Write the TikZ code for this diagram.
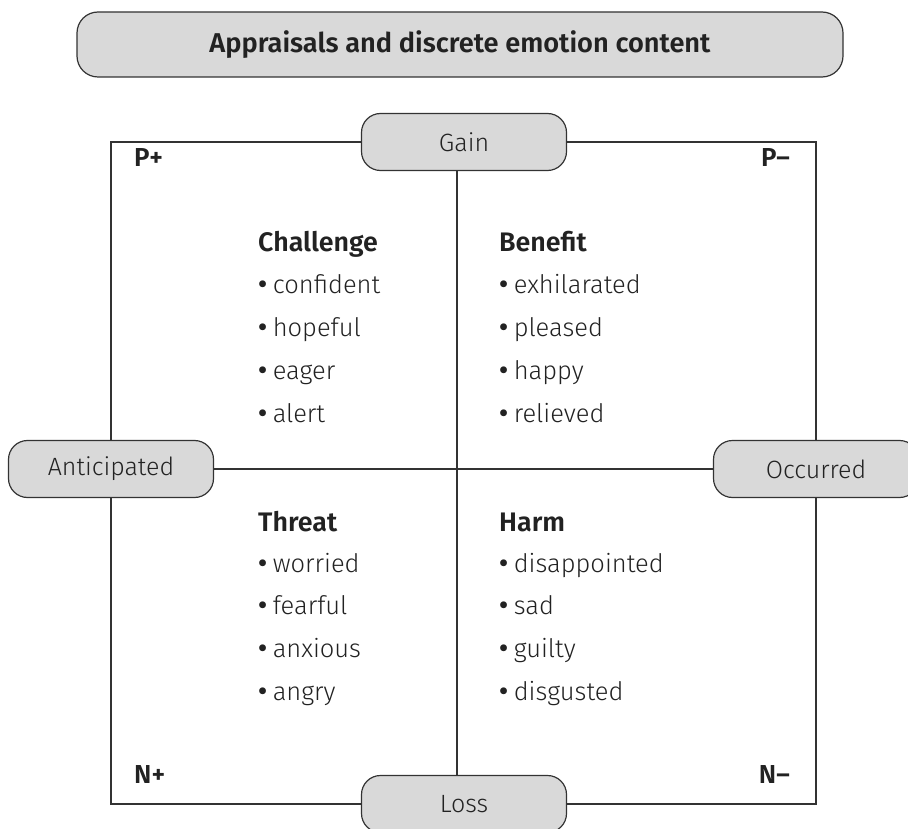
\documentclass[tikz,border=0pt]{standalone}
\usepackage{fontspec}
\setmainfont{Fira Sans Light}[BoldFont={Fira Sans}]
\newfontfamily\headfont{Fira Sans SemiBold}
\newfontfamily\bulfont{Fira Sans Medium}
\newcommand{\bul}{{\bulfont\fontsize{27}{29}\selectfont •}\hspace{5.5pt}}
\definecolor{boxfill}{HTML}{D9D9D9}
\definecolor{linec}{HTML}{333333}
\definecolor{textc}{HTML}{222222}
\tikzset{
  pill/.style={draw=linec, fill=boxfill, rounded corners=19pt, minimum width=205pt,
    minimum height=57pt, inner sep=0pt, line width=1.2pt, text=textc,
    font=\fontsize{25}{29}\selectfont},
  titlebox/.style={pill, minimum width=766pt, minimum height=65pt, rounded corners=21pt,
    font=\headfont\fontsize{27.2}{30}\selectfont},
  frame/.style={draw=linec, line width=1.2pt},
  head/.style={anchor=base west, inner sep=0pt, text=textc, font=\headfont\fontsize{26.8}{30}\selectfont},
  item/.style={anchor=base west, inner sep=0pt, text=textc, font=\fontsize{25.5}{29}\selectfont},
  corner/.style={inner sep=0pt, text=textc, font=\headfont\fontsize{26}{30}\selectfont},
}
\begin{document}
\begin{tikzpicture}[x=1pt,y=-1pt]
\useasboundingbox (0,0) rectangle (908,829);
\clip (0,0) rectangle (908,829);
% outer frame
\draw[frame] (111,142) rectangle (816,804);
% boxes
\node[titlebox] (title) at (460,44.5) {Appraisals and discrete emotion content};
\node[pill] (gain) at (464,142) {Gain};
\node[pill] (loss) at (464,804) {Loss};
\node[pill] (ant) at (111,469) {Anticipated};
\node[pill] (occ) at (816,469) {Occurred};
% axes
\coordinate (vt) at (457,170.5);
\coordinate (vb) at (457,775.5);
\draw[frame] (vt) -- (vb);
\draw[frame] (ant.east) -- (occ.west);
% corners
\node[corner, anchor=base west] (pp) at (134,167) {P+};
\node[corner, anchor=base east] (pm) at (790,167) {P–};
\node[corner, anchor=base west] (np) at (134,783) {N+};
\node[corner, anchor=base east] (nm) at (790,783) {N–};
% quadrant lists
\node[head] (chh) at (258,252) {Challenge};
\foreach \w [count=\i] in {confident,hopeful,eager,alert}
  \node[item] (ch\i) at (258,251.3+42.7*\i) {\bul\w};
\node[head] (beh) at (499,252) {Benefit};
\foreach \w [count=\i] in {exhilarated,pleased,happy,relieved}
  \node[item] (be\i) at (499,251.3+42.7*\i) {\bul\w};
\node[head] (thh) at (258,531) {Threat};
\foreach \w [count=\i] in {worried,fearful,anxious,angry}
  \node[item] (th\i) at (258,529.3+42.7*\i) {\bul\w};
\node[head] (hah) at (499,531) {Harm};
\foreach \w [count=\i] in {disappointed,sad,guilty,disgusted}
  \node[item] (ha\i) at (499,529.3+42.7*\i) {\bul\w};
\end{tikzpicture}
\end{document}
